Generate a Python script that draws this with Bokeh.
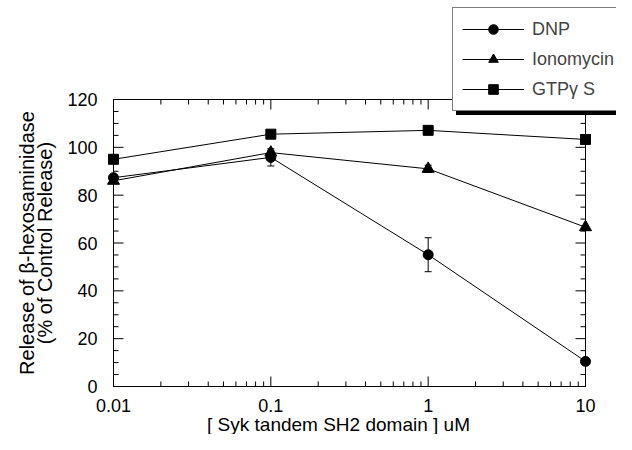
import math
from bokeh.plotting import figure
from bokeh.models import Legend, LegendItem, Whisker, ColumnDataSource
from bokeh.core.properties import value
from bokeh.embed import file_html
from bokeh.resources import INLINE

# ---- data ----
conc = [0.01, 0.1, 1, 10]
dnp = [87.3, 95.8, 55.1, 10.5]
dnp_err = [1.0, 3.6, 7.1, 0.5]
iono = [86.0, 97.8, 91.0, 66.6]
iono_err = [1.0, 1.0, 1.5, 0.5]
gtp = [95.0, 105.5, 107.1, 103.3]
gtp_err = [0.5, 0.5, 0.5, 0.5]

names = ["DNP", "Ionomycin", "GTPγ S"]
y_ticks = [0, 20, 40, 60, 80, 100, 120]
y_tick_labels = ["0", "20", "40", "60", "80", "100", "120"]
y_minor = [v for v in range(0, 121, 5) if v % 20]
x_ticks = [0.01, 0.1, 1, 10]
x_tick_labels = ["0.01", "0.1", "1", "10"]
x_minor = [m * d for d in [0.01, 0.1, 1] for m in range(2, 10)]
x_title = "[ Syk tandem SH2 domain ] uM"
y_title_lines = ["Release of β-hexosaminidase", "(% of Control Release)"]

FONT = "Liberation Sans"

# ---- layout (pixels) ----
W, H = 616, 434
box_left_px, box_right_px = 113, 585
box_top_px, box_bottom_px = 99, 386
px_per_dec = (box_right_px - box_left_px) / math.log10(x_ticks[-1] / x_ticks[0])
px_per_unit = (box_bottom_px - box_top_px) / (y_ticks[-1] - y_ticks[0])
x_start = x_ticks[0] / 10 ** (box_left_px / px_per_dec)
x_end = x_ticks[-1] * 10 ** ((W - box_right_px) / px_per_dec)
y_start = y_ticks[0] - (H - box_bottom_px) / px_per_unit
y_end = y_ticks[-1] + box_top_px / px_per_unit

p = figure(width=W, height=H, x_axis_type="log", x_range=(x_start, x_end), y_range=(y_start, y_end),
           x_axis_location=None, y_axis_location=None,
           output_backend="svg", toolbar_location=None,
           min_border_left=0, min_border_right=0, min_border_top=0, min_border_bottom=0)
p.xgrid.visible = False
p.ygrid.visible = False
p.outline_line_color = None

# ---- plot box and inward ticks ----
x0, x1, y0, y1 = x_ticks[0], x_ticks[-1], y_ticks[0], y_ticks[-1]
p.quad(left=[x0], right=[x1], bottom=[y0], top=[y1], fill_color=None, line_color="black", line_width=1)
MAJ, MIN = 10, 5
tick_specs = [
    (x_ticks, [y0] * len(x_ticks), math.pi / 2, MAJ),
    (x_minor, [y0] * len(x_minor), math.pi / 2, MIN),
    (x_ticks, [y1] * len(x_ticks), -math.pi / 2, MAJ),
    (x_minor, [y1] * len(x_minor), -math.pi / 2, MIN),
    ([x0] * len(y_ticks), y_ticks, 0.0, MAJ),
    ([x0] * len(y_minor), y_minor, 0.0, MIN),
    ([x1] * len(y_ticks), y_ticks, math.pi, MAJ),
    ([x1] * len(y_minor), y_minor, math.pi, MIN),
]
for xs, ys, ang, ln in tick_specs:
    p.ray(x=xs, y=ys, length=ln, length_units="screen", angle=ang, line_color="black", line_width=1)

# ---- tick labels and titles ----
txt = dict(text_font=value(FONT), text_color="black")
p.text(x=[x0] * len(y_ticks), y=y_ticks, text=y_tick_labels, x_offset=-16,
       text_align="right", text_baseline="middle", text_font_size="18px", **txt)
p.text(x=x_ticks, y=[y0] * len(x_ticks), text=x_tick_labels, y_offset=12,
       text_align="center", text_baseline="top", text_font_size="18px", **txt)
p.text(x=[math.sqrt(x0 * x1)], y=[y0], text=[x_title], y_offset=27, x_offset=-11,
       text_align="center", text_baseline="top", text_font_size="19px", **txt)
y_mid = (y0 + y1) / 2
for line, off in zip(y_title_lines, [-87, -69]):
    p.text(x=[x0], y=[y_mid], text=[line], x_offset=off, angle=math.pi / 2,
           text_align="center", text_baseline="middle", text_font_size="20px", **txt)

# ---- series ----
series = [(dnp, dnp_err, "circle", 10), (iono, iono_err, "triangle", 12), (gtp, gtp_err, "square", 10)]
items = []
for (vals, err, mk, sz), name in zip(series, names):
    src = ColumnDataSource(dict(x=conc, y=vals,
                                lo=[v - e for v, e in zip(vals, err)],
                                hi=[v + e for v, e in zip(vals, err)]))
    w = Whisker(source=src, base="x", upper="hi", lower="lo", dimension="height",
                line_color="black", line_width=1)
    w.upper_head.size = 7
    w.lower_head.size = 7
    w.upper_head.line_color = "black"
    w.lower_head.line_color = "black"
    p.add_layout(w)
    ln = p.line("x", "y", source=src, line_color="black", line_width=1)
    sc = p.scatter("x", "y", source=src, marker=mk, size=sz, fill_color="black", line_color="black")
    items.append(LegendItem(label=name, renderers=[ln, sc]))

# ---- legend with drop shadow ----
leg_left = 452
leg_bottom = H - 111
leg_kw = dict(orientation="vertical", glyph_width=62, glyph_height=24, spacing=6, padding=9,
              label_standoff=8, label_width=150, margin=0,
              label_text_font=FONT, label_text_font_size="18px")
shadow = Legend(items=items, location=(leg_left + 4, leg_bottom - 4), border_line_color="black",
                background_fill_color="black", background_fill_alpha=1,
                label_text_alpha=0, **leg_kw)
p.add_layout(shadow, "center")
legend = Legend(items=items, location=(leg_left, leg_bottom),
                border_line_color="black", border_line_width=1.5,
                background_fill_color="white", background_fill_alpha=1, **leg_kw)
p.add_layout(legend, "center")

open("out.html", "w").write(file_html(p, INLINE))
